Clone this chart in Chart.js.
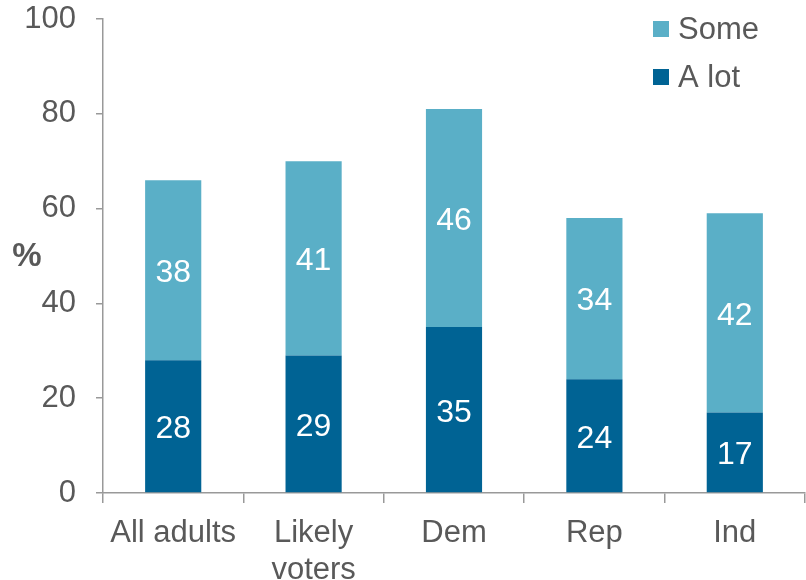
<!DOCTYPE html>
<html>
<head>
<meta charset="utf-8">
<script src="https://cdn.jsdelivr.net/npm/chart.js@4.4.1/dist/chart.umd.min.js"></script>
<style>
  html, body { margin: 0; padding: 0; background: #fff; }
  #wrap { width: 806px; height: 580px; }
</style>
</head>
<body>
<div id="wrap"><canvas id="my_chart" width="806" height="580"></canvas></div>
<script>
var categories = ['All adults', ['Likely', 'voters'], 'Dem', 'Rep', 'Ind']
var a_lot = [28, 29, 35, 24, 17]
var some = [38, 41, 46, 34, 42]
var y_ticks = [0, 20, 40, 60, 80, 100]

var text_color = '#595959'
var axis_color = '#999999'
var font_family = '"Liberation Sans", Arial, sans-serif'

// white numbers inside each bar segment
var barValues = {
  id: 'barValues',
  afterDatasetsDraw(chart) {
    var c = chart.ctx
    c.save()
    c.fillStyle = '#ffffff'
    c.font = '32px ' + font_family
    c.textAlign = 'center'
    c.textBaseline = 'middle'
    chart.data.datasets.forEach((ds, i) => {
      chart.getDatasetMeta(i).data.forEach((bar, j) => {
        c.fillText(ds.data[j], bar.x, (bar.y + bar.base) / 2 + 3)
      })
    })
    c.restore()
  }
}

// legend top right, "Some" above "A lot", plus the % axis title
var extras = {
  id: 'extras',
  afterDraw(chart) {
    var c = chart.ctx
    c.save()
    var sets = chart.data.datasets.slice().reverse()
    c.font = '31px ' + font_family
    c.textBaseline = 'middle'
    c.textAlign = 'left'
    sets.forEach((ds, i) => {
      var cy = 29 + i * 48
      c.fillStyle = ds.backgroundColor
      c.fillRect(653, cy - 8, 16, 16)
      c.fillStyle = text_color
      c.fillText(ds.label, 678, cy + 1)
    })
    c.font = 'bold 33px ' + font_family
    c.textAlign = 'center'
    c.fillStyle = text_color
    c.fillText('%', 27, 257)
    c.restore()
  }
}

ctx = document.getElementById('my_chart')
my_chart = new Chart(ctx, {
  type: 'bar',
  data: {
    labels: categories,
    datasets: [
      { label: 'A lot', data: a_lot, backgroundColor: '#006394' },
      { label: 'Some', data: some, backgroundColor: '#5aafc7' }
    ]
  },
  options: {
    responsive: false,
    animation: false,
    layout: { padding: { top: 19, right: 1, left: 0, bottom: 0 } },
    categoryPercentage: 1,
    barPercentage: 0.4,
    plugins: { legend: { display: false }, tooltip: { enabled: false } },
    scales: {
      x: {
        stacked: true,
        afterFit(s) { s.height = 87; s.paddingLeft = 0; s.paddingRight = 0 },
        border: { color: axis_color, width: 1.5 },
        grid: { offset: true, drawOnChartArea: false, tickLength: 10, color: axis_color, lineWidth: 1.5 },
        ticks: { color: text_color, font: { family: font_family, size: 31 }, padding: 12, maxRotation: 0 }
      },
      y: {
        stacked: true,
        min: 0,
        max: 100,
        afterFit(s) { s.width = 103; s.paddingTop = 0; s.paddingBottom = 0 },
        afterBuildTicks(s) { s.ticks = y_ticks.map(v => ({ value: v })) },
        border: { color: axis_color, width: 1.5 },
        grid: { drawOnChartArea: false, tickLength: 7, color: axis_color, lineWidth: 1.5 },
        ticks: { color: text_color, font: { family: font_family, size: 31 }, padding: 20 }
      }
    }
  },
  plugins: [barValues, extras]
})
</script>
</body>
</html>
